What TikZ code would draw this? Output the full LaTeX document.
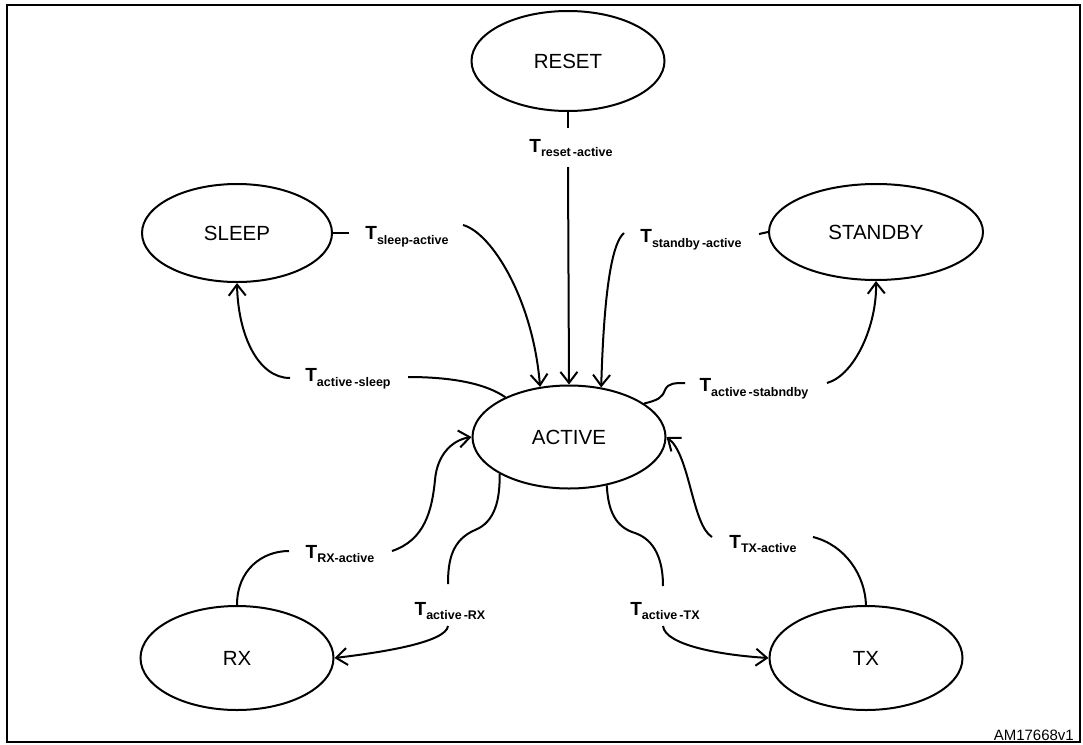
\documentclass[tikz,border=0pt]{standalone}
\usepackage{fontspec}
\setmainfont{Liberation Sans}
\usetikzlibrary{shapes.geometric,arrows.meta}
\newcommand\tlab[1]{{\fontsize{19}{22}\selectfont T}\raisebox{-4.5pt}{\fontsize{12.5}{14}\selectfont #1}}
\begin{document}
\begin{tikzpicture}[x=1pt,y=-1pt,
  st/.style={draw, ellipse, line width=2pt, inner sep=0pt, minimum width=193pt, minimum height=103pt, font=\fontsize{20.5}{24}\selectfont},
  lab/.style={inner sep=0pt, font=\bfseries},
  conn/.style={line width=2pt},
  arr/.style={conn, -{Straight Barb[length=11pt,width=17pt]}}]
\useasboundingbox (0,0) rectangle (1083,744);
\draw[line width=1.8pt] (7,5) rectangle (1080,742);

% states
\node[st, minimum height=100pt] (reset) at (568,61) {RESET};
\node[st, minimum width=190pt, minimum height=98pt] (sleep) at (237,233) {SLEEP};
\node[st, minimum width=214pt, minimum height=96pt] (standby) at (876,232) {STANDBY};
\node[st] (active) at (569,437) {ACTIVE};
\node[st, minimum height=104pt] (rx) at (237,658) {RX};
\node[st, minimum height=104pt] (tx) at (866,658) {TX};

% labels
\node[lab] (lra) at (571,148) {\tlab{reset\,-active}};
\node[lab] (lsa) at (407,237) {\tlab{sleep-active}};
\node[lab] (lsb) at (691,240) {\tlab{standby\,-active}};
\node[lab] (las) at (348,379) {\tlab{active\,-sleep}};
\node[lab] (lab) at (754,389) {\tlab{active\,-stabndby}};
\node[lab] (lrx) at (340,554) {\tlab{RX-active}};
\node[lab] (larx) at (450,611) {\tlab{active\,-RX}};
\node[lab] (ltx) at (763,544) {\tlab{TX-active}};
\node[lab] (latx) at (665,611) {\tlab{active\,-TX}};

% connector ends next to labels
\coordinate (ra1) at (568,128);
\coordinate (ra2) at (568,167);
\coordinate (sa1) at (349,233);
\coordinate (sa2) at (463,225);
\coordinate (sb1) at (759,234);
\coordinate (sb2) at (624,233);
\coordinate (as1) at (408,377);
\coordinate (as2) at (290,378);
\coordinate (bs1) at (685,383);
\coordinate (bs2) at (827,383);
\coordinate (xa1) at (289,551);
\coordinate (xa2) at (392,551);
\coordinate (rxa1) at (448,584);
\coordinate (rxa2) at (448,626);
\coordinate (txa1) at (663,586);
\coordinate (txa2) at (663,626);
\coordinate (xt1) at (813,537);
\coordinate (xt2) at (712,537);

% reset -> active
\draw[conn] (reset.south) -- (ra1);
\draw[arr] (ra2) -- (active.north);
% sleep -> active
\draw[conn] (sleep.east) -- (sa1);
\draw[arr] (sa2) .. controls (492,233) and (533,300) .. (active.120);
% standby -> active
\draw[conn] (standby.west) -- (sb1);
\draw[arr] (sb2) .. controls (612,243) and (604,290) .. (active.57);
% active -> sleep
\draw[conn] (active.148) .. controls (485,383) and (450,377) .. (as1);
\draw[arr] (as2) .. controls (258,378) and (238,335) .. (sleep.south);
% active -> standby
\draw[conn] (active.24) .. controls (658,400) and (662,398) .. (665,390) .. controls (668,383) and (675,383) .. (bs1);
\draw[arr] (bs2) .. controls (855,375) and (877,325) .. (standby.south);
% rx -> active
\draw[conn] (rx.north) .. controls (237,570) and (262,551) .. (xa1);
\draw[arr] (xa2) .. controls (425,540) and (432,510) .. (435,480) .. controls (437,455) and (452,440) .. (active.west);
% active -> rx
\draw[conn] (active.208) .. controls (500,500) and (495,522) .. (475,530) .. controls (452,540) and (448,560) .. (rxa1);
\draw[arr] (rxa2) .. controls (446,642) and (385,652) .. (rx.east);
% active -> tx
\draw[conn] (active.308) .. controls (608,510) and (615,527) .. (635,533) .. controls (655,540) and (663,560) .. (txa1);
\draw[arr] (txa2) .. controls (665,645) and (720,655) .. (tx.west);
% tx -> active
\draw[conn] (tx.north) .. controls (865,575) and (845,545) .. (xt1);
\draw[arr] (xt2) .. controls (692,525) and (690,455) .. (active.east);

\node[anchor=base east, inner sep=0pt, font=\fontsize{15}{18}\selectfont] (code) at (1074,740) {AM17668v1};
\end{tikzpicture}
\end{document}
